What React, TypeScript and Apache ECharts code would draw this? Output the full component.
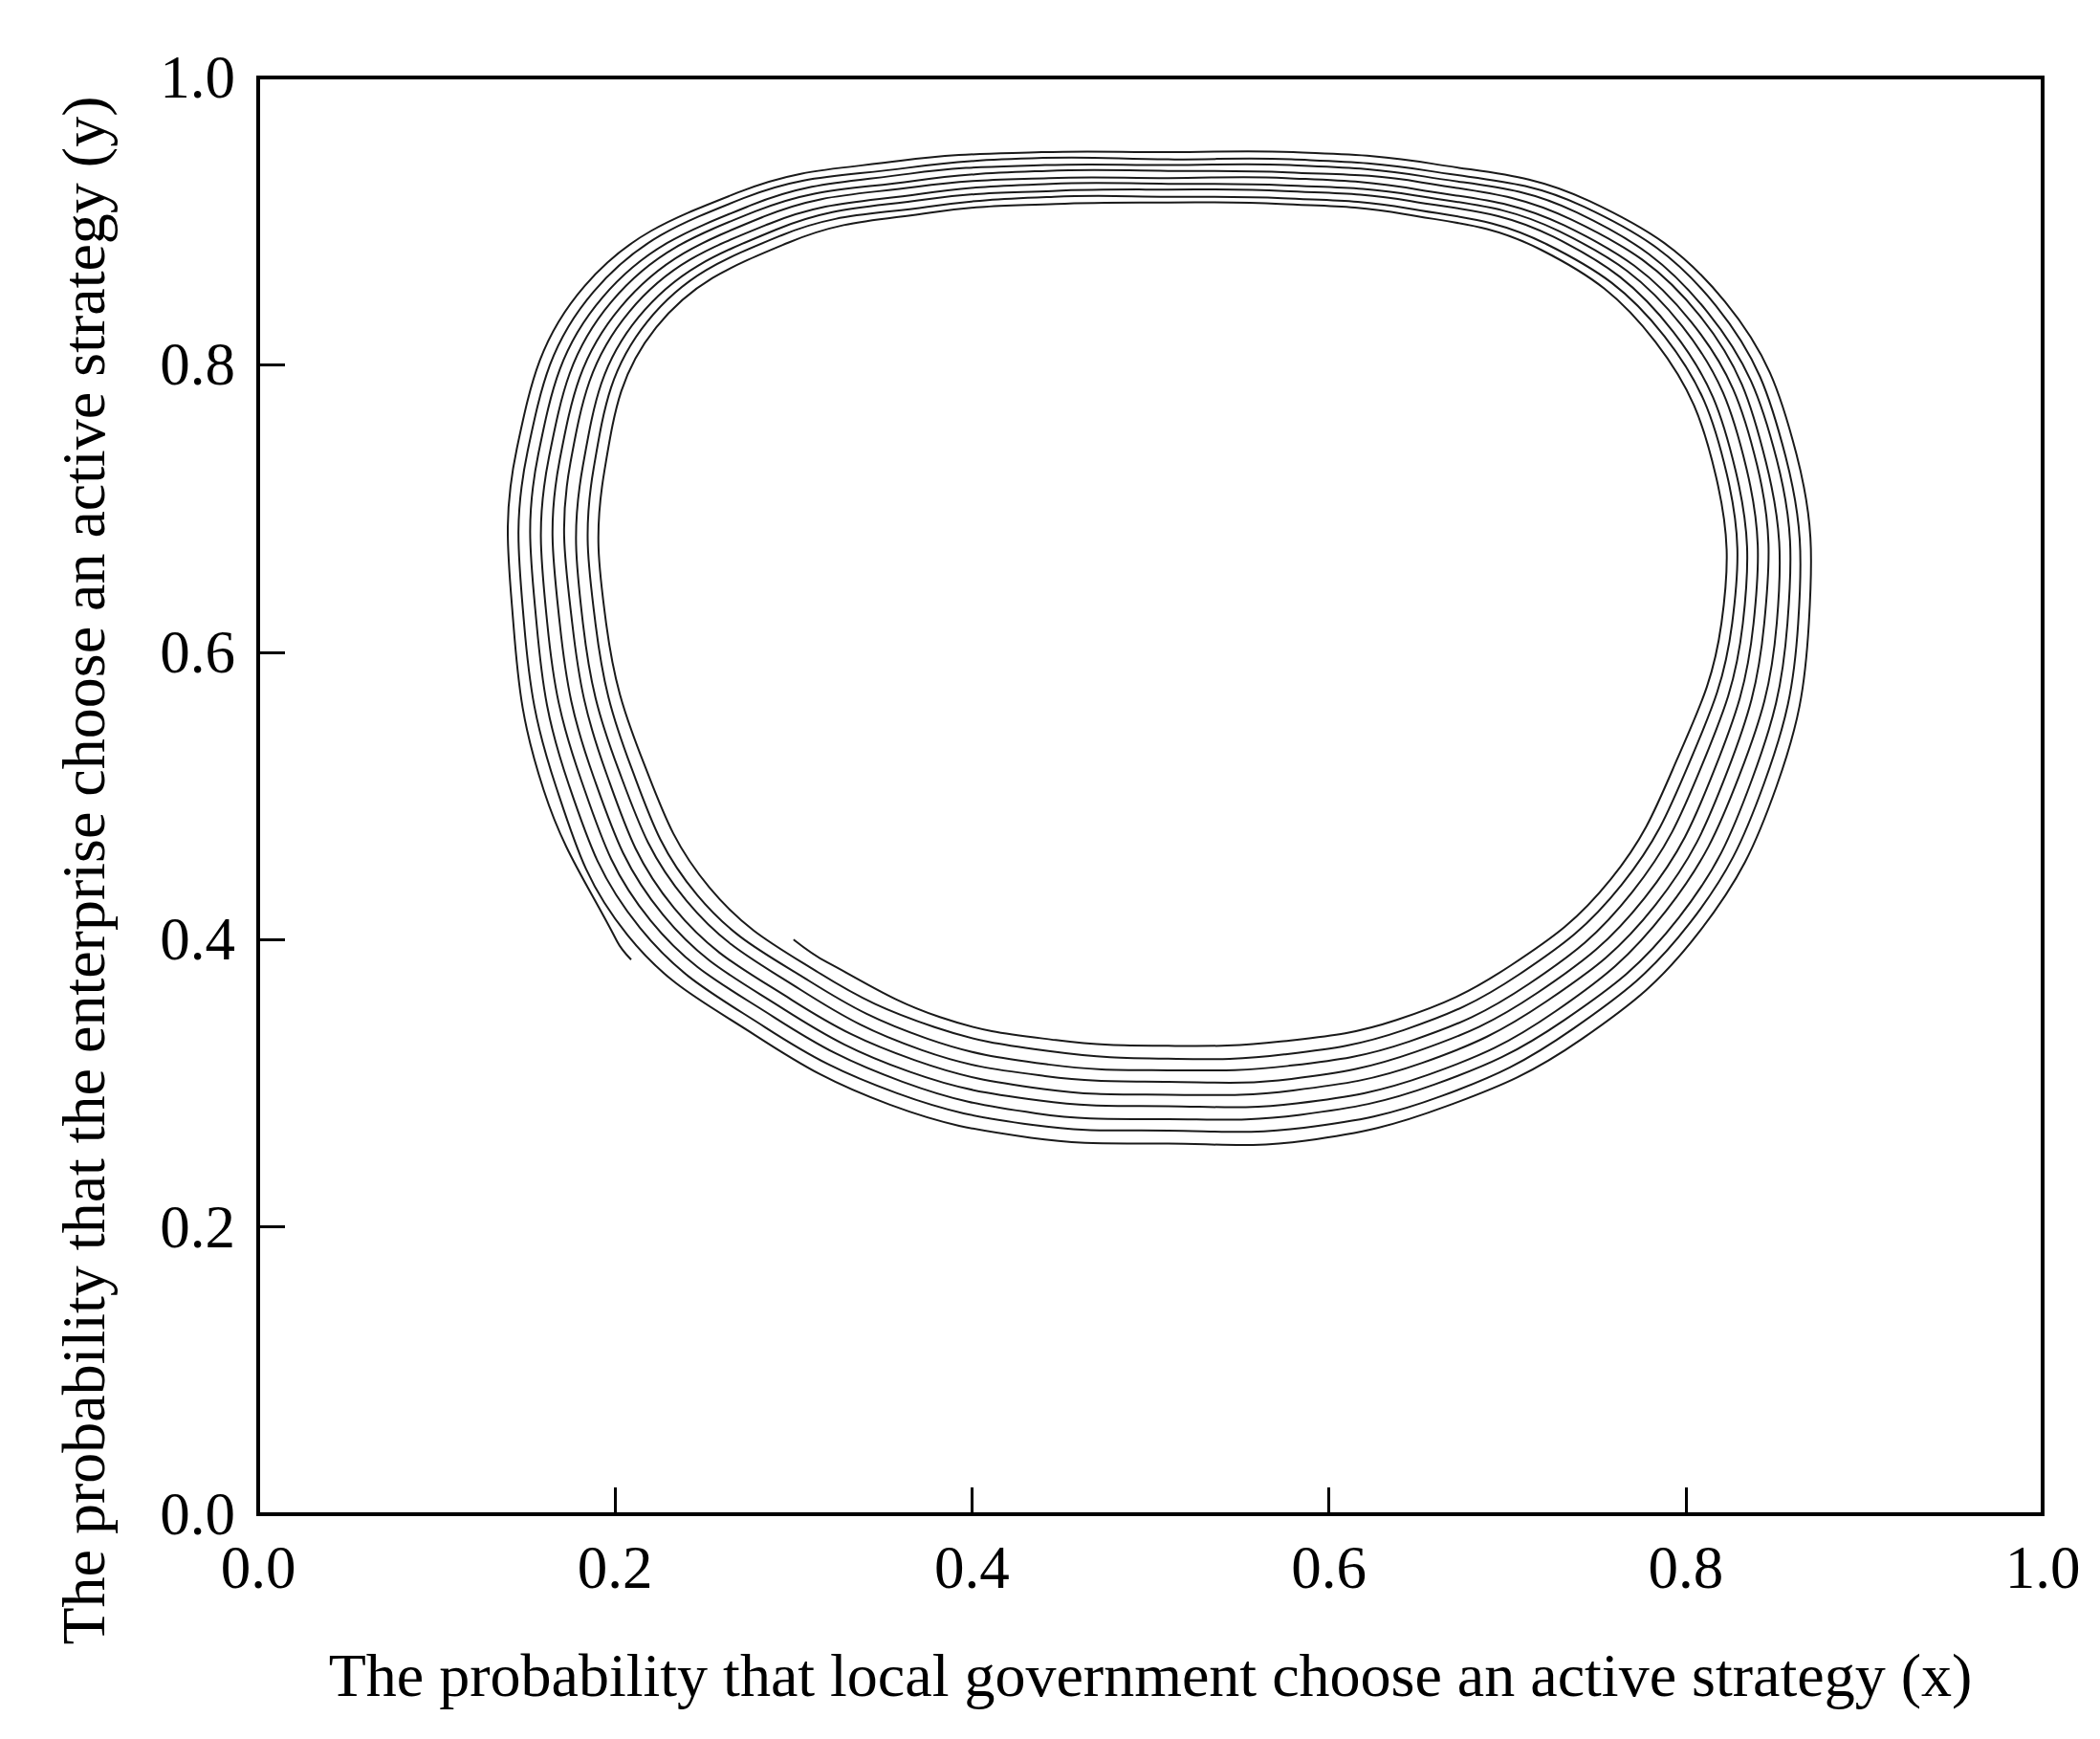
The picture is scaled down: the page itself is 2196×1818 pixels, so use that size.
import React, { useEffect, useRef } from "react";
import * as echarts from "echarts";

const xTitle = "The probability that local government choose an active strategy (x)";
const yTitle = "The probability that the enterprise choose an active strategy (y)";

// Trajectory start (innermost) and end (outermost) points
const startPoint = [0.3, 0.4];
const endPoint = [0.209, 0.386];

// Points read along the loop, station by station (going counter-clockwise),
// each station listing the 9 rings from inner (first lap) to outer (last lap).
// Bottom part of the loop
const bottomX = [
  [0.319, 0.314, 0.309, 0.304, 0.299, 0.294, 0.289, 0.284, 0.279],
  [0.382, 0.379, 0.375, 0.372, 0.368, 0.365, 0.361, 0.358, 0.354],
  [0.447, 0.445, 0.443, 0.441, 0.44, 0.438, 0.436, 0.434, 0.433],
  [0.51, 0.51, 0.51, 0.51, 0.51, 0.51, 0.51, 0.51, 0.51],
  [0.573, 0.575, 0.577, 0.579, 0.58, 0.582, 0.584, 0.586, 0.587],
  [0.638, 0.642, 0.645, 0.649, 0.652, 0.656, 0.659, 0.663, 0.666],
];
const bottomY = [
  [0.384, 0.377, 0.371, 0.365, 0.358, 0.352, 0.346, 0.339, 0.333],
  [0.346, 0.339, 0.331, 0.323, 0.316, 0.308, 0.301, 0.293, 0.285],
  [0.33, 0.322, 0.313, 0.305, 0.296, 0.288, 0.279, 0.271, 0.262],
  [0.326, 0.317, 0.309, 0.301, 0.292, 0.284, 0.275, 0.267, 0.258],
  [0.329, 0.32, 0.312, 0.303, 0.295, 0.286, 0.278, 0.269, 0.26],
  [0.344, 0.337, 0.329, 0.322, 0.314, 0.306, 0.299, 0.291, 0.284],
];

// Right part of the loop
const rightX = [
  [0.702, 0.707, 0.712, 0.717, 0.722, 0.727, 0.732, 0.737, 0.742],
  [0.758, 0.764, 0.77, 0.777, 0.783, 0.789, 0.796, 0.802, 0.808],
  [0.795, 0.802, 0.809, 0.816, 0.823, 0.83, 0.837, 0.844, 0.851],
  [0.82, 0.826, 0.832, 0.838, 0.844, 0.851, 0.857, 0.863, 0.869],
  [0.817, 0.823, 0.828, 0.834, 0.84, 0.845, 0.851, 0.856, 0.862],
  [0.783, 0.788, 0.793, 0.798, 0.803, 0.808, 0.812, 0.817, 0.822],
];
const rightY = [
  [0.382, 0.376, 0.369, 0.363, 0.357, 0.35, 0.344, 0.338, 0.331],
  [0.442, 0.438, 0.433, 0.429, 0.424, 0.42, 0.415, 0.411, 0.406],
  [0.525, 0.523, 0.521, 0.518, 0.516, 0.514, 0.511, 0.509, 0.507],
  [0.62, 0.62, 0.62, 0.62, 0.62, 0.62, 0.62, 0.62, 0.62],
  [0.722, 0.724, 0.726, 0.728, 0.73, 0.732, 0.734, 0.736, 0.738],
  [0.816, 0.82, 0.823, 0.827, 0.83, 0.834, 0.837, 0.841, 0.844],
];

// Top part of the loop
const topX = [
  [0.719, 0.722, 0.726, 0.729, 0.732, 0.736, 0.739, 0.743, 0.746],
  [0.642, 0.644, 0.646, 0.648, 0.65, 0.652, 0.654, 0.656, 0.658],
  [0.573, 0.574, 0.575, 0.575, 0.576, 0.577, 0.578, 0.579, 0.58],
  [0.51, 0.51, 0.51, 0.51, 0.51, 0.51, 0.51, 0.51, 0.51],
  [0.447, 0.446, 0.445, 0.444, 0.443, 0.442, 0.441, 0.44, 0.439],
  [0.377, 0.375, 0.373, 0.371, 0.369, 0.367, 0.365, 0.363, 0.36],
];
const topY = [
  [0.88, 0.884, 0.889, 0.893, 0.897, 0.901, 0.906, 0.91, 0.914],
  [0.905, 0.909, 0.914, 0.918, 0.922, 0.927, 0.931, 0.935, 0.94],
  [0.912, 0.916, 0.921, 0.925, 0.93, 0.934, 0.939, 0.943, 0.948],
  [0.913, 0.917, 0.922, 0.926, 0.93, 0.935, 0.939, 0.943, 0.948],
  [0.912, 0.917, 0.921, 0.926, 0.93, 0.935, 0.939, 0.944, 0.948],
  [0.906, 0.91, 0.915, 0.919, 0.924, 0.928, 0.933, 0.937, 0.942],
];

// Left part of the loop
const leftX = [
  [0.297, 0.293, 0.29, 0.286, 0.283, 0.279, 0.276, 0.272, 0.269],
  [0.223, 0.218, 0.213, 0.208, 0.203, 0.198, 0.193, 0.188, 0.183],
  [0.194, 0.188, 0.182, 0.175, 0.169, 0.163, 0.157, 0.151, 0.145],
  [0.195, 0.189, 0.182, 0.176, 0.169, 0.162, 0.156, 0.149, 0.143],
  [0.216, 0.209, 0.202, 0.195, 0.188, 0.181, 0.174, 0.167, 0.16],
  [0.253, 0.246, 0.24, 0.233, 0.227, 0.22, 0.214, 0.207, 0.201],
];
const leftY = [
  [0.885, 0.89, 0.894, 0.898, 0.903, 0.907, 0.911, 0.916, 0.92],
  [0.826, 0.83, 0.833, 0.837, 0.84, 0.844, 0.847, 0.851, 0.855],
  [0.726, 0.728, 0.73, 0.732, 0.734, 0.736, 0.738, 0.74, 0.742],
  [0.62, 0.62, 0.62, 0.62, 0.62, 0.62, 0.62, 0.62, 0.62],
  [0.523, 0.52, 0.518, 0.516, 0.513, 0.511, 0.508, 0.506, 0.504],
  [0.436, 0.431, 0.427, 0.422, 0.417, 0.413, 0.408, 0.403, 0.399],
];

const RINGS = 9;

function buildPath(): number[][] {
  const groupsX = [bottomX, rightX, topX, leftX];
  const groupsY = [bottomY, rightY, topY, leftY];
  const pts: number[][] = [startPoint];
  for (let r = 0; r < RINGS; r++) {
    for (let g = 0; g < groupsX.length; g++) {
      const gx = groupsX[g];
      const gy = groupsY[g];
      for (let s = 0; s < gx.length; s++) pts.push([gx[s][r], gy[s][r]]);
    }
  }
  pts.push(endPoint);
  return pts;
}

const FONT = "'Liberation Serif', 'Times New Roman', 'DejaVu Serif', serif";

export default function App() {
  const ref = useRef<HTMLDivElement>(null);
  useEffect(() => {
    if (!ref.current) return;
    const chart = echarts.init(ref.current, undefined, { renderer: "svg" });
    const path = buildPath();
    const axisCommon = {
      type: "value" as const,
      min: 0,
      max: 1,
      interval: 0.2,
      axisLine: { show: false },
      axisTick: { show: true, inside: true, length: 28, lineStyle: { color: "#000", width: 3 } },
      splitLine: { show: false },
      axisLabel: {
        color: "#000",
        fontSize: 63,
        fontFamily: FONT,
        margin: 24,
        formatter: (v: number) => v.toFixed(1),
      },
    };
    chart.setOption({
      animation: false,
      backgroundColor: "#fff",
      grid: {
        left: 270,
        right: 60,
        top: 81,
        bottom: 235,
        show: true,
        borderColor: "#000",
        borderWidth: 4,
        backgroundColor: "transparent",
      },
      xAxis: axisCommon,
      yAxis: axisCommon,
      graphic: [
        {
          type: "text",
          x: 1203,
          y: 1751,
          style: {
            text: xTitle,
            fontSize: 64,
            fontFamily: FONT,
            fill: "#000",
            align: "center",
            verticalAlign: "middle",
          },
        },
        {
          type: "text",
          x: 87,
          y: 910,
          rotation: Math.PI / 2,
          style: {
            text: yTitle,
            fontSize: 64,
            fontFamily: FONT,
            fill: "#000",
            align: "center",
            verticalAlign: "middle",
          },
        },
      ],
      series: [
        {
          type: "custom",
          coordinateSystem: "cartesian2d",
          encode: { x: 0, y: 1 },
          data: path,
          silent: true,
          renderItem: (params: any, api: any) => {
            if (params.dataIndex !== 0) return null;
            const pts = path.map((p) => api.coord(p));
            return {
              type: "polyline",
              shape: { points: pts, smooth: 0.4 },
              style: { stroke: "#1a1a1a", lineWidth: 2, fill: "none" },
            };
          },
        },
      ],
    });
    return () => chart.dispose();
  }, []);
  return (
    <div
      ref={ref}
      style={{ position: "fixed", left: 0, top: 0, width: 2196, height: 1818, background: "#fff" }}
    />
  );
}
